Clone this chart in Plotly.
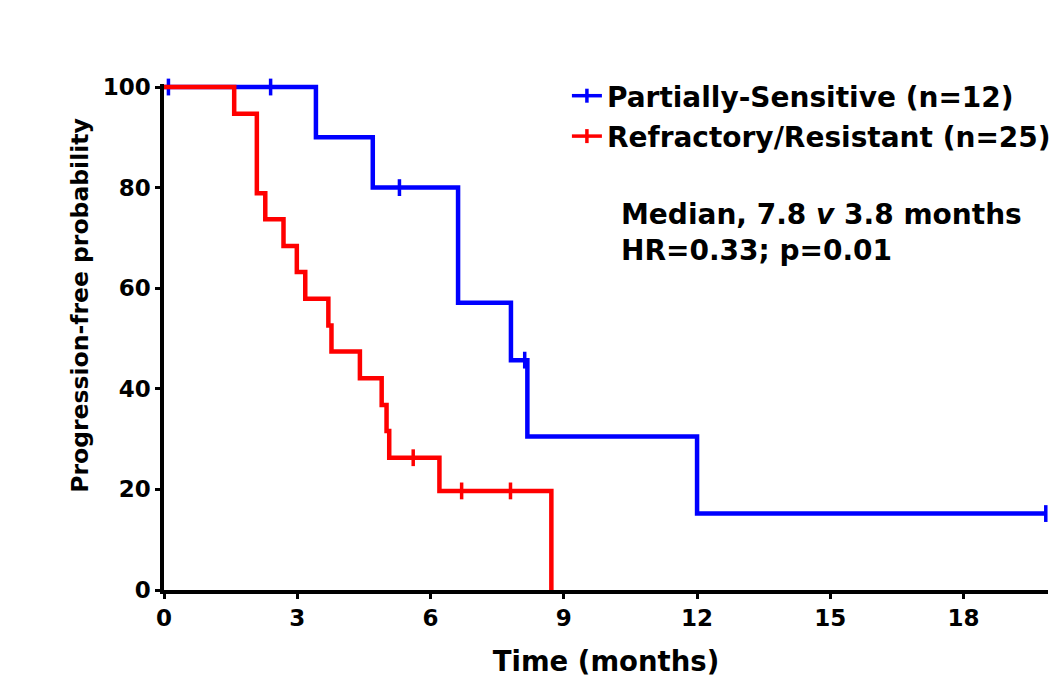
import numpy as np
import plotly.graph_objects as go

# ---- data ----
blue_times = [0, 3.42, 4.70, 6.62, 7.81, 8.18, 12.0, 19.85]
blue_surv = [100, 90, 80, 57.1, 45.7, 30.5, 15.2, 15.2]
blue_censor = [0.1, 2.4, 5.3, 8.12, 19.85]

red_times = [0, 1.58, 2.09, 2.28, 2.69, 2.99, 3.18, 3.70, 3.77, 4.41, 4.90, 5.01, 5.07, 6.20, 8.72]
red_surv = [100, 94.7, 78.9, 73.7, 68.4, 63.2, 57.9, 52.6, 47.4, 42.1, 36.8, 31.6, 26.3, 19.7, 0]
red_censor = [5.61, 6.70, 7.80]

x_ticks = [0, 3, 6, 9, 12, 15, 18]
y_ticks = [0, 20, 40, 60, 80, 100]

legend_names = ["Partially-Sensitive (n=12)", "Refractory/Resistant (n=25)"]
BLUE = "#0000FF"
RED = "#FF0000"
FONT = "DejaVu Sans, Verdana, sans-serif"


def surv_at(times, surv, t):
    idx = np.searchsorted(np.array(times), t, side="right") - 1
    return [surv[i] for i in idx]


fig = go.Figure()

for times, surv, cens, color in [
    (blue_times, blue_surv, blue_censor, BLUE),
    (red_times, red_surv, red_censor, RED),
]:
    fig.add_trace(go.Scatter(x=times, y=surv, mode="lines", line=dict(color=color, width=4.5, shape="hv"),
                             showlegend=False, hoverinfo="skip"))
    fig.add_trace(go.Scatter(x=cens, y=surv_at(times, surv, cens), mode="markers",
                             marker=dict(symbol="line-ns", size=12, line=dict(color=color, width=3.5)),
                             showlegend=False, cliponaxis=False, hoverinfo="skip"))

for i, (color, name) in enumerate([(BLUE, legend_names[0]), (RED, legend_names[1])]):
    fig.add_trace(go.Scatter(x=[None], y=[None], mode="lines+markers", name=name, legendgroup=f"g{i}",
                             line=dict(color=color, width=3.5),
                             marker=dict(symbol="line-ns", size=10, line=dict(color=color, width=3.5))))

axis_common = dict(
    showline=True, linecolor="black", linewidth=3.5, ticks="outside", tickwidth=3, ticklen=5,
    tickcolor="black", showgrid=False, zeroline=False, automargin=False,
    tickfont=dict(family=FONT, size=23, color="black", weight="bold"),
)

fig.update_layout(
    width=1054, height=677,
    margin=dict(l=164, r=6, t=84, b=87, autoexpand=False),
    paper_bgcolor="white", plot_bgcolor="white",
    font=dict(family=FONT, size=22, color="black", weight="bold"),
    xaxis=dict(range=[0, 19.9], tickvals=x_ticks, **axis_common,
               title=dict(text="Time (months)", standoff=24,
                          font=dict(family=FONT, size=27.5, color="black", weight="bold"))),
    yaxis=dict(range=[0, 100.6], tickvals=y_ticks, **axis_common),
    legend=dict(x=(566 - 164) / 882, y=1.0 + 13 / 506, xanchor="left", yanchor="top", bgcolor="rgba(0,0,0,0)",
                font=dict(family=FONT, size=28, color="black", weight="bold"),
                itemwidth=30, tracegroupgap=1),
    showlegend=True,
)

fig.add_annotation(text="Progression-free probability", textangle=-90, xref="paper", yref="paper",
                   x=(80 - 164) / 882, y=(590 - 305) / 506, xanchor="center", yanchor="middle", showarrow=False,
                   font=dict(family=FONT, size=23.5, color="black", weight="bold"))
fig.add_annotation(text="Median, 7.8 <i>v</i> 3.8 months<br>HR=0.33; p=0.01", xref="paper", yref="paper",
                   x=(618 - 164) / 882, y=(590 - 196) / 506, xanchor="left", yanchor="top", align="left",
                   showarrow=False, font=dict(family=FONT, size=28, color="black", weight="bold"))

fig.write_html("out.html")
